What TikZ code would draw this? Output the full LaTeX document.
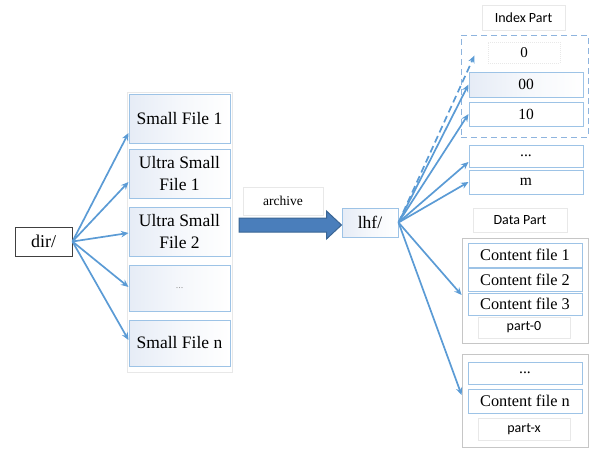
\documentclass[tikz,border=0pt]{standalone}
\usepackage{fontspec}
\setmainfont{Liberation Serif}
\newfontfamily\calib{Carlito}
\usetikzlibrary{calc,arrows.meta}
\definecolor{arrblue}{HTML}{5B9BD5}
\definecolor{boxblue}{HTML}{9DC3E6}
\definecolor{tint}{HTML}{E6ECF6}
\definecolor{faint}{HTML}{E8E8E8}
\definecolor{partgray}{HTML}{C6C6C6}
\definecolor{dashblue}{HTML}{8EB4DE}
\definecolor{bigfill}{HTML}{4A7EBB}
\definecolor{bigedge}{HTML}{3A6594}
\tikzset{
  tinted/.style={left color=tint, right color=white, middle color=white!60!tint},
  filebox/.style={draw=boxblue, line width=1pt, tinted,
    minimum width=101pt, inner sep=0pt, align=center,
    font=\fontsize{17.5}{22}\selectfont},
  idxbox/.style={draw=boxblue, line width=1pt, fill=white, minimum width=114pt,
    inner sep=0pt, font=\fontsize{15.5}{18}\selectfont},
  lblbox/.style={draw=faint, line width=0.6pt, fill=white, inner sep=0pt,
    font=\calib\fontsize{14}{16}\selectfont},
  partbox/.style={draw=partgray, line width=0.8pt, minimum width=126pt, inner sep=0pt},
  arr/.style={draw=arrblue, line width=1.7pt, -{Stealth[length=7.5pt,width=6.5pt]}},
}
\begin{document}
\begin{tikzpicture}[x=1pt,y=-1pt]
\useasboundingbox (0,0) rectangle (591,448);

% source directory and its files
\node[draw=black!75, line width=0.9pt, fill=white, minimum width=57pt, minimum height=29pt,
  inner sep=0pt, font=\fontsize{18}{20}\selectfont] (dir) at (43.5,241.5) {dir/};
\node[draw=faint, line width=0.8pt, minimum width=105pt, minimum height=280pt] (col) at (179.5,232) {};
\node[filebox, minimum height=49pt] (sf1) at (179.5,118.5) {Small File 1};
\node[filebox, minimum height=49pt] (usf1) at (179.5,173.5) {Ultra Small\\File 1};
\node[filebox, minimum height=49pt] (usf2) at (179.5,231.5) {Ultra Small\\File 2};
\node[filebox, minimum height=46pt, font=\fontsize{10}{12}\selectfont, text=black!40] (sdots) at (179.5,288) {...};
\node[filebox, minimum height=46pt] (sfn) at (179.5,343) {Small File n};

\draw[arr] (dir.east) -- ([yshift=-14.5pt]sf1.west);
\draw[arr] (dir.east) -- ([yshift=-8.5pt]usf1.west);
\draw[arr] (dir.east) -- ([yshift=-1.5pt]usf2.west);
\draw[arr] (dir.east) -- ([yshift=1pt]sdots.west);
\draw[arr] (dir.east) -- ([yshift=3pt]sfn.west);

% archive step
\node[lblbox, minimum width=80pt, minimum height=28pt, font=\fontsize{13.5}{15}\selectfont] (arch) at (283,201) {archive};
\node[draw=boxblue, line width=1pt, tinted, minimum width=56pt,
  minimum height=29pt, inner sep=0pt, font=\fontsize{17.5}{20}\selectfont] (lhf) at (370,222.5) {lhf/};
\coordinate (bs) at (239,225);
\coordinate (bt) at (lhf.west);
\fill[bigfill, draw=bigedge, line width=1pt, line join=miter]
  ($(bs)+(0,-7)$) -- ($(bt)+(-15,-4.5)$) -- ($(bt)+(-15,-11.5)$) -- ($(bt)+(0,2.5)$)
  -- ($(bt)+(-15,16.5)$) -- ($(bt)+(-15,9.5)$) -- ($(bs)+(0,7)$) -- cycle;

% index part
\node[lblbox, minimum width=83pt, minimum height=25pt] (ilbl) at (523.5,17.5) {Index Part};
\node[draw=dashblue, dashed, dash pattern=on 6pt off 4pt, line width=1pt,
  minimum width=127pt, minimum height=102pt] (ipart) at (524.5,86) {};
\node[draw=faint, densely dotted, line width=1pt, minimum width=72pt, minimum height=21pt,
  inner sep=0pt, font=\fontsize{15}{17}\selectfont] (i0) at (524,52.5) {0};
\node[idxbox, tinted, minimum height=25pt] (i00) at (526,84.5) {00};
\node[idxbox, minimum height=24pt] (i10) at (526,114) {10};
\node[idxbox, minimum height=22pt] (idots) at (526,156) {...};
\node[idxbox, minimum height=24pt] (im) at (526,182) {m};

\draw[arr, dashed, dash pattern=on 7pt off 4pt] (lhf.east) -- ($(i0.south west)+(-13,-8)$);
\draw[arr] (lhf.east) -- (i00.west);
\draw[arr] (lhf.east) -- (i10.west);
\draw[arr] (lhf.east) -- ([yshift=-6pt]idots.west);
\draw[arr] (lhf.east) -- (im.west);

% data part
\node[lblbox, minimum width=94pt, minimum height=24pt] (dlbl) at (520,220) {Data Part};
\node[partbox, minimum height=105pt] (p0) at (525,290.5) {};
\node[idxbox, minimum height=24pt, font=\fontsize{16.3}{18}\selectfont] (c1) at (525,255) {Content file 1};
\node[idxbox, minimum height=23pt, font=\fontsize{16.3}{18}\selectfont] (c2) at (525,279.5) {Content file 2};
\node[idxbox, minimum height=22pt, font=\fontsize{16.3}{18}\selectfont] (c3) at (525,304) {Content file 3};
\node[lblbox, minimum width=92pt, minimum height=21pt] (p0l) at (524,327.5) {part-0};

\node[partbox, minimum height=93pt] (px) at (525,400.5) {};
\node[idxbox, minimum height=22pt] (xdots) at (525,373) {...};
\node[idxbox, minimum height=24pt, font=\fontsize{16.3}{18}\selectfont] (cn) at (525,401) {Content file n};
\node[lblbox, minimum width=92pt, minimum height=22pt] (pxl) at (524,429) {part-x};

\draw[arr] (lhf.east) -- ([yshift=-4.5pt]p0.west);
\draw[arr] (lhf.east) -- ([yshift=5.5pt]px.west);
\end{tikzpicture}
\end{document}
